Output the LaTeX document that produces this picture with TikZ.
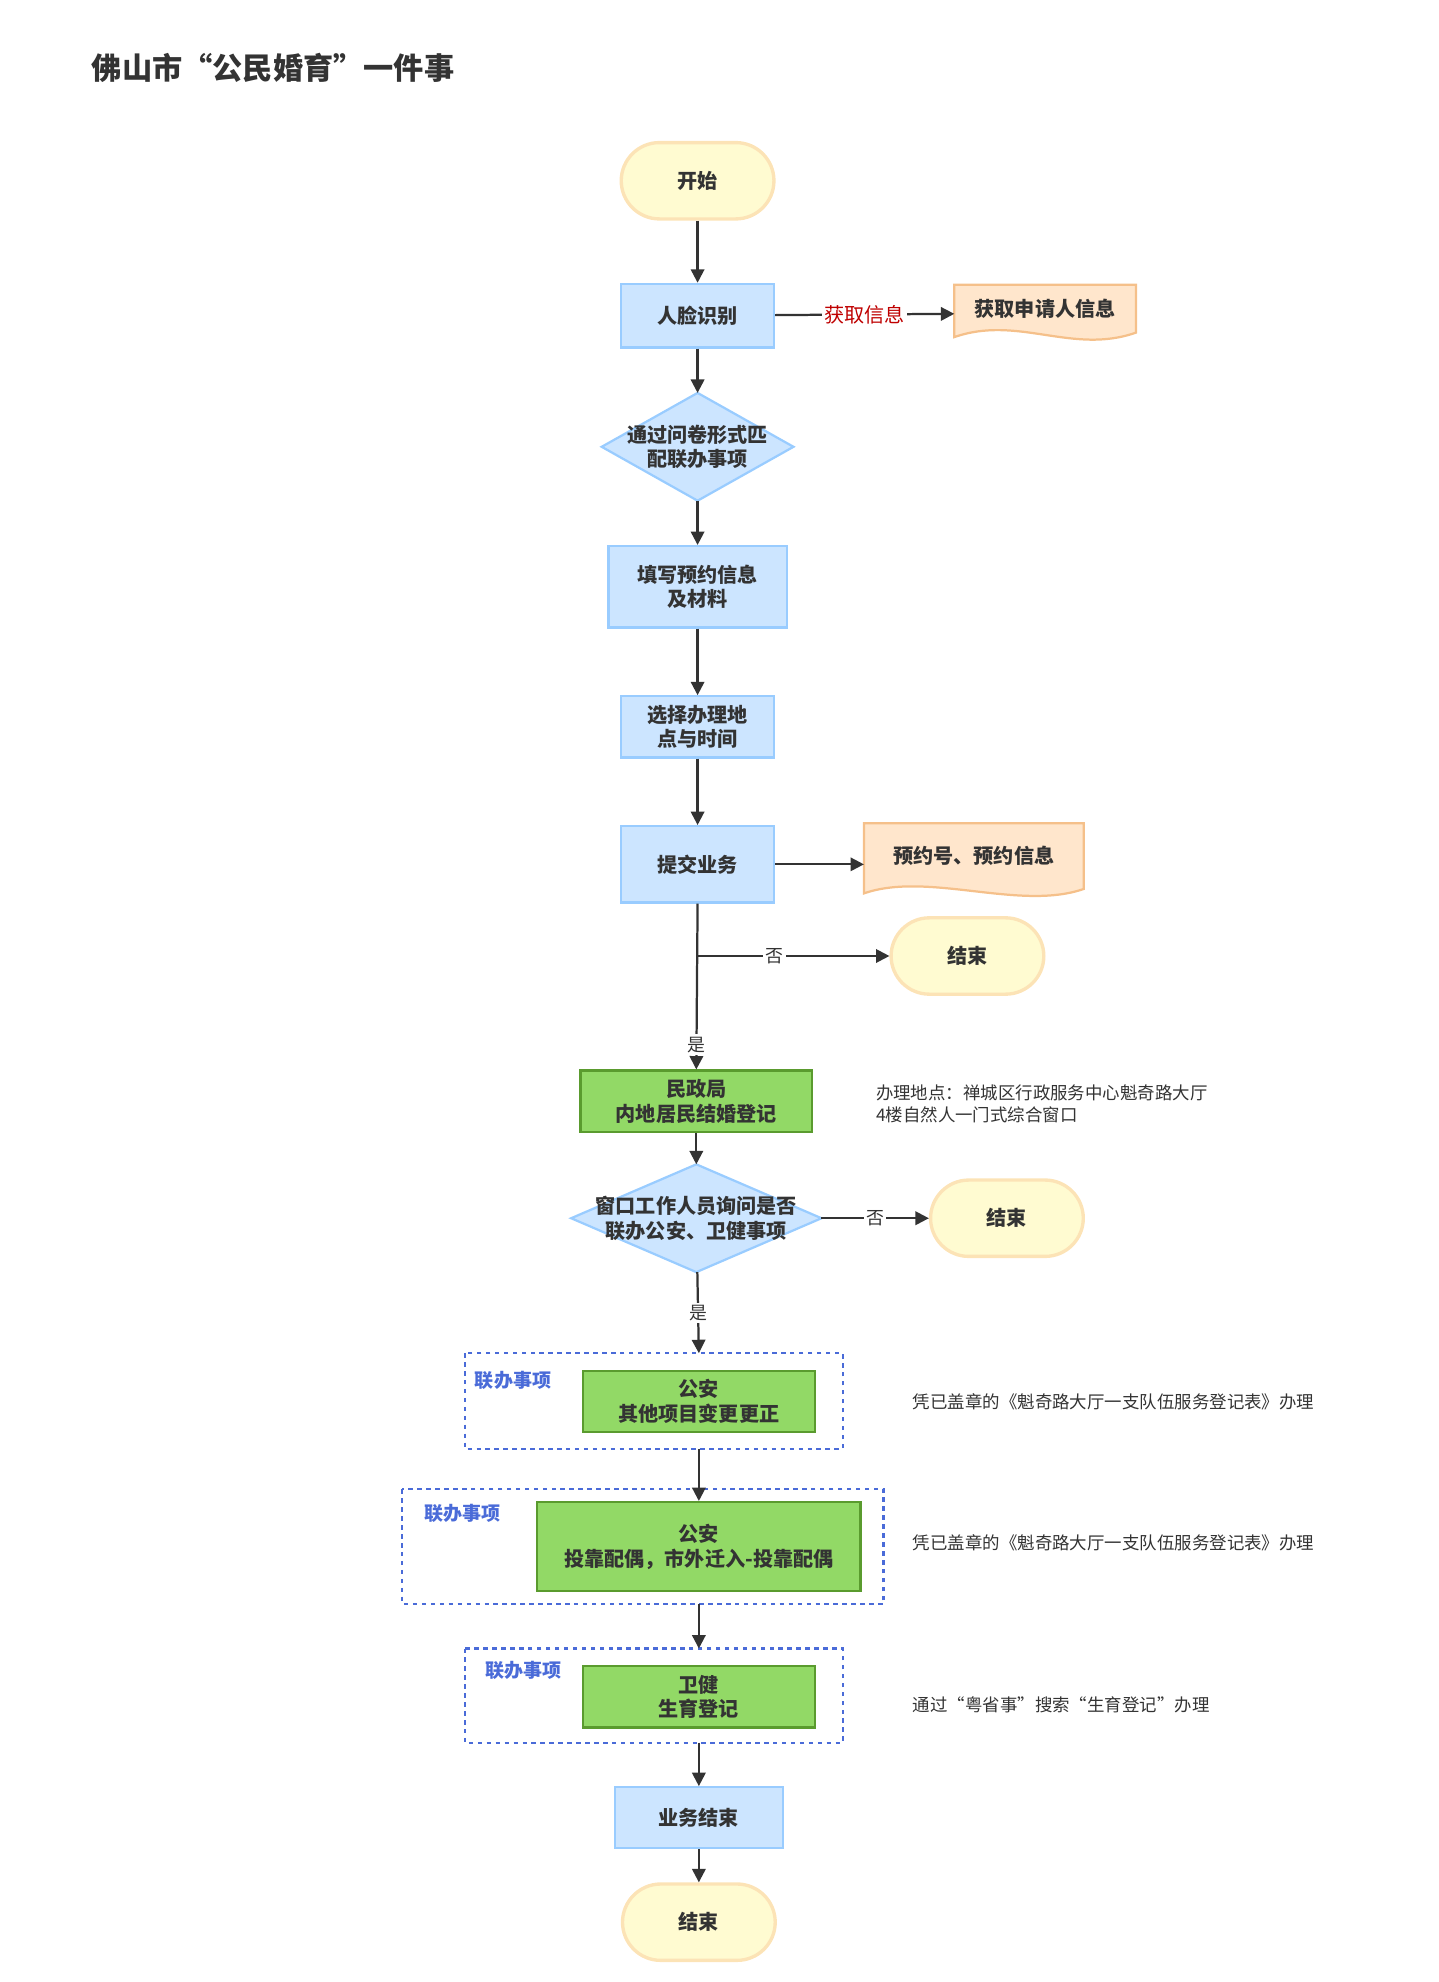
\documentclass[tikz,border=0pt]{standalone}
\usepackage{fontspec}
\setmainfont{Noto Sans CJK SC}
\usetikzlibrary{positioning,arrows.meta}
\definecolor{bfill}{HTML}{CCE5FF}\definecolor{bline}{HTML}{99CCFF}
\definecolor{yfill}{HTML}{FFFBD1}\definecolor{yline}{HTML}{FCE3B6}
\definecolor{ofill}{HTML}{FFE6CC}\definecolor{oline}{HTML}{F5C08A}
\definecolor{gfill}{HTML}{92D966}\definecolor{gline}{HTML}{5A9B2E}
\definecolor{dash}{HTML}{4A6BD8}\definecolor{ink}{HTML}{333333}
\tikzset{
  txt/.style={font=\fontsize{9}{11}\selectfont\bfseries, text=ink, align=center},
  term/.style={txt, draw=yline, fill=yfill, line width=1.5pt, minimum width=2.4cm, minimum height=1.2cm, rounded corners=0.6cm},
  proc/.style={txt, draw=bline, fill=bfill, line width=1pt},
  green/.style={txt, draw=gline, fill=gfill, line width=1pt, minimum width=3.64cm, minimum height=0.96cm},
  doc/.style={txt, inner sep=0pt},
  dia/.style={txt, inner sep=0pt},
  note/.style={font=\fontsize{7.8}{10}\selectfont, text=ink, align=left, anchor=west},
  lab/.style={font=\fontsize{8}{10}\selectfont, text=ink, fill=white, inner sep=1pt},
  grp/.style={draw=dash, dashed, line width=1pt, dash pattern=on 2pt off 2pt},
  grplab/.style={font=\fontsize{8.5}{10}\selectfont\bfseries, text=dash},
  arr/.style={draw=ink, line width=1pt, -{Triangle[length=6pt,width=6pt]}}
}
\begin{document}
\begin{tikzpicture}[x=0.02cm, y=-0.02cm]
    \useasboundingbox (0,0) rectangle (1130,1557);
    \node[anchor=west, font=\fontsize{13.5}{15}\selectfont\bfseries, text=ink] (title) at (66,53) {佛山市“公民婚育”一件事};

    % Main column
    \node[term] (start) at (548,142) {开始};
    \node[proc, minimum width=2.4cm, minimum height=1.0cm] (face) at (548,248) {人脸识别};
    \node[doc, minimum width=2.84cm, minimum height=0.88cm] (info) at (821,246) {};
    \node[dia, minimum width=3.0cm, minimum height=1.68cm] (quiz) at (548,351) {};
    \node[proc, minimum width=2.8cm, minimum height=1.28cm] (fill) at (548,461) {填写预约信息\\及材料};
    \node[proc, minimum width=2.4cm, minimum height=0.96cm] (place) at (548,571) {选择办理地\\点与时间};
    \node[proc, minimum width=2.4cm, minimum height=1.2cm] (submit) at (548,679) {提交业务};
    \node[doc, minimum width=3.44cm, minimum height=1.16cm] (appt) at (765,676) {};
    \node[term] (end1) at (760,751) {结束};
    \node[green] (civil) at (547,865) {民政局\\内地居民结婚登记};
    \node[dia, minimum width=3.92cm, minimum height=1.68cm] (ask) at (547,957) {};
    \node[term] (end2) at (791,957) {结束};

    % Document shapes and diamonds
    \foreach \n in {info, appt} {
      \draw[draw=oline, fill=ofill, line width=1pt] (\n.north west) -- (\n.north east) -- ([yshift=4pt]\n.south east)
        .. controls ([xshift=-1cm,yshift=-6pt]\n.south east) and ([xshift=1cm,yshift=12pt]\n.south west) .. ([yshift=2pt]\n.south west) -- cycle;
    }
    \foreach \n in {quiz, ask} {
      \draw[draw=bline, fill=bfill, line width=1pt] (\n.north) -- (\n.east) -- (\n.south) -- (\n.west) -- cycle;
    }
    \node[txt] at ([yshift=2pt]info.center) {获取申请人信息};
    \node[txt] at ([yshift=2pt]appt.center) {预约号、预约信息};
    \node[txt] at (quiz.center) {通过问卷形式匹\\配联办事项};
    \node[txt] at (ask.center) {窗口工作人员询问是否\\联办公安、卫健事项};

    % Linked items
    \draw[grp] (365,1063) rectangle (662,1138);
    \node[grplab] (g1) at (403,1084) {联办事项};
    \node[green] (police1) at (549,1101) {公安\\其他项目变更更正};
    \draw[grp] (316,1170) rectangle (694,1260);
    \node[grplab] (g2) at (363,1189) {联办事项};
    \node[green, minimum width=5.08cm, minimum height=1.4cm] (police2) at (549,1215) {公安\\投靠配偶，市外迁入-投靠配偶};
    \draw[grp] (365,1295) rectangle (662,1369);
    \node[grplab] (g3) at (411,1312) {联办事项};
    \node[green] (health) at (549,1333) {卫健\\生育登记};
    \node[proc, minimum width=2.64cm, minimum height=0.96cm] (done) at (549,1428) {业务结束};
    \node[term] (end3) at (549,1510) {结束};

    % Notes
    \node[note] (n1) at (682,867) {办理地点：禅城区行政服务中心魁奇路大厅\\4楼自然人一门式综合窗口};
    \node[note] (n2) at (711,1101) {凭已盖章的《魁奇路大厅一支队伍服务登记表》办理};
    \node[note] (n3) at (711,1212) {凭已盖章的《魁奇路大厅一支队伍服务登记表》办理};
    \node[note] (n4) at (711,1339) {通过“粤省事”搜索“生育登记”办理};

    % Connectors
    \draw[arr] (start) -- (face);
    \draw[arr] (face) -- node[lab, text=red!75!black, font=\fontsize{9}{11}\selectfont] {获取信息} (info);
    \draw[arr] (face) -- (quiz);
    \draw[arr] (quiz) -- (fill);
    \draw[arr] (fill) -- (place);
    \draw[arr] (place) -- (submit);
    \draw[arr] (submit) -- (appt.west |- submit);
    \coordinate (split) at (548,751);
    \draw[arr] (submit.south) -- node[lab, pos=0.85] {是} (civil.north);
    \draw[arr] (split) -- node[lab, pos=0.4] {否} (end1);
    \draw[arr] (civil) -- (ask);
    \draw[arr] (ask) -- node[lab] {否} (end2);
    \draw[arr] (ask) -- node[lab] {是} (police1.north |- 0,1063);
    \draw[arr] (police1.south |- 0,1138) -- (police2);
    \draw[arr] (police2.south |- 0,1260) -- (health.north |- 0,1295);
    \draw[arr] (health.south |- 0,1369) -- (done);
    \draw[arr] (done) -- (end3);
\end{tikzpicture}
\end{document}
